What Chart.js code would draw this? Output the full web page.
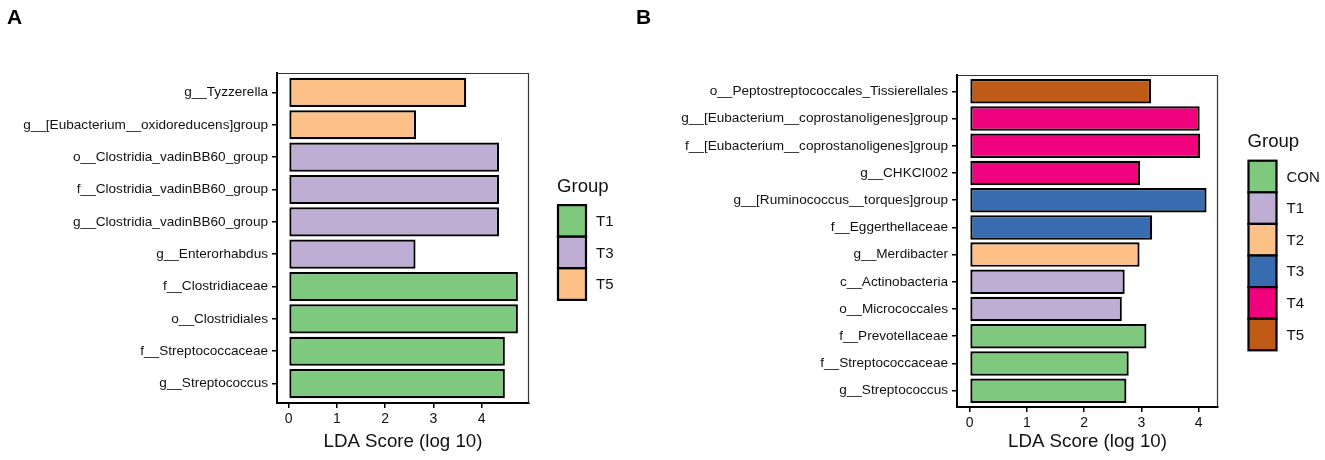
<!DOCTYPE html>
<html>
<head>
<meta charset="utf-8">
<script src="https://cdn.jsdelivr.net/npm/chart.js@4"></script>
<style>
  html, body { margin: 0; padding: 0; background: #fff; }
  body { width: 1325px; height: 460px; position: relative; overflow: hidden; }
  .panel { position: absolute; top: 0; height: 460px; }
  #wrapA { left: 0; width: 640px; }
  #wrapB { left: 620px; width: 705px; }
</style>
</head>
<body>
<div class="panel" id="wrapA"><canvas id="chartA"></canvas></div>
<div class="panel" id="wrapB"><canvas id="chartB"></canvas></div>
<script>
// --- panel A ---
const labelsA = [
  'g__Tyzzerella',
  'g__[Eubacterium__oxidoreducens]group',
  'o__Clostridia_vadinBB60_group',
  'f__Clostridia_vadinBB60_group',
  'g__Clostridia_vadinBB60_group',
  'g__Enterorhabdus',
  'f__Clostridiaceae',
  'o__Clostridiales',
  'f__Streptococcaceae',
  'g__Streptococcus'
];
const scoresA = [3.68, 2.64, 4.36, 4.36, 4.36, 2.63, 4.75, 4.75, 4.48, 4.48];
const groupsA = ['T5', 'T5', 'T3', 'T3', 'T3', 'T3', 'T1', 'T1', 'T1', 'T1'];
const legendA = ['T1', 'T3', 'T5'];
const coloursA = ['#7FC97F', '#BEAED4', '#FDC086'];

// --- panel B ---
const labelsB = [
  'o__Peptostreptococcales_Tissierellales',
  'g__[Eubacterium__coprostanoligenes]group',
  'f__[Eubacterium__coprostanoligenes]group',
  'g__CHKCI002',
  'g__[Ruminococcus__torques]group',
  'f__Eggerthellaceae',
  'g__Merdibacter',
  'c__Actinobacteria',
  'o__Micrococcales',
  'f__Prevotellaceae',
  'f__Streptococcaceae',
  'g__Streptococcus'
];
const scoresB = [3.17, 4.02, 4.03, 2.98, 4.14, 3.19, 2.97, 2.71, 2.66, 3.09, 2.78, 2.74];
const groupsB = ['T5', 'T4', 'T4', 'T4', 'T3', 'T3', 'T2', 'T1', 'T1', 'CON', 'CON', 'CON'];
const legendB = ['CON', 'T1', 'T2', 'T3', 'T4', 'T5'];
const coloursB = ['#7FC97F', '#BEAED4', '#FDC086', '#386CB0', '#F0027F', '#BF5B17'];

const xTicks = [0, 1, 2, 3, 4];

const FONT = '"Liberation Sans", Arial, Helvetica, sans-serif';
Chart.defaults.font.family = FONT;
Chart.defaults.color = '#111';

function ldaChart(id, cfg) {
  const H = 460;
  const n = cfg.labels.length;
  const colourOf = g => cfg.colours[cfg.legend.indexOf(g)];

  // frame top/right, legend, panel letter
  const decor = {
    id: 'decor',
    afterDraw(chart) {
      const { ctx, chartArea: a } = chart;
      ctx.save();
      ctx.strokeStyle = '#333';
      ctx.lineWidth = 1.2;
      ctx.beginPath();
      ctx.moveTo(a.left, a.top + 0.5);
      ctx.lineTo(a.right - 0.5, a.top + 0.5);
      ctx.lineTo(a.right - 0.5, a.bottom);
      ctx.stroke();

      const keyH = 31.6, keyW = 28;
      const kx = a.right + cfg.legendGap;
      const ky = (a.top + a.bottom) / 2 + 14.5 - cfg.legend.length * keyH / 2;
      ctx.fillStyle = '#111';
      ctx.textAlign = 'left';
      ctx.textBaseline = 'alphabetic';
      ctx.font = '18.6px ' + FONT;
      ctx.fillText('Group', kx, ky - 13.5);
      ctx.font = '15px ' + FONT;
      ctx.textBaseline = 'middle';
      cfg.legend.forEach((name, i) => {
        const y = ky + i * keyH;
        ctx.fillStyle = cfg.colours[i];
        ctx.fillRect(kx + 1, y, keyW, keyH);
        ctx.strokeStyle = '#000';
        ctx.lineWidth = 2.2;
        ctx.strokeRect(kx + 1, y, keyW, keyH);
        ctx.fillStyle = '#111';
        ctx.fillText(name, kx + keyW + 11, y + keyH / 2 + 1);
      });

      ctx.font = 'bold 21px ' + FONT;
      ctx.textBaseline = 'alphabetic';
      ctx.fillStyle = '#000';
      ctx.fillText(cfg.letter, cfg.letterX, 24);
      ctx.restore();
    }
  };

  return new Chart(document.getElementById(id), {
    type: 'bar',
    data: {
      datasets: [{
        data: cfg.scores.map((v, i) => ({ x: v, y: i })),
        backgroundColor: cfg.groups.map(colourOf),
        borderColor: '#000',
        borderWidth: 2.2,
        borderSkipped: false,
        categoryPercentage: 0.9,
        barPercentage: 1
      }]
    },
    options: {
      indexAxis: 'y',
      responsive: true,
      maintainAspectRatio: false,
      animation: false,
      layout: { padding: { top: cfg.area.top, right: cfg.width - cfg.area.right, left: 0, bottom: 0 } },
      plugins: { legend: { display: false }, tooltip: { enabled: false } },
      scales: {
        x: {
          type: 'linear',
          min: cfg.xMin,
          max: cfg.xMax,
          afterBuildTicks: s => { s.ticks = xTicks.map(v => ({ value: v })); },
          afterFit: s => { s.height = H - cfg.area.bottom; },
          grid: { drawOnChartArea: false, drawTicks: true, tickLength: 5, color: '#000', lineWidth: 1.5 },
          border: { display: true, color: '#000', width: 2 },
          ticks: { color: '#111', font: { size: 14 }, padding: 3 },
          title: { display: true, text: 'LDA Score (log 10)', color: '#111', font: { size: 18.7 }, padding: { top: 4, bottom: 7 } }
        },
        y: {
          type: 'linear',
          reverse: true,
          offset: false,
          min: -0.6,
          max: n - 0.4,
          afterBuildTicks: s => { s.ticks = cfg.labels.map((_, i) => ({ value: i })); },
          afterFit: s => { s.width = cfg.area.left; },
          grid: { offset: false, drawOnChartArea: false, drawTicks: true, tickLength: 5, color: '#000', lineWidth: 1.5 },
          border: { display: true, color: '#000', width: 2 },
          ticks: { color: '#111', font: { size: 13.6 }, padding: 4, autoSkip: false, callback: v => cfg.labels[v] }
        }
      }
    },
    plugins: [decor]
  });
}

ldaChart('chartA', {
  labels: labelsA, scores: scoresA, groups: groupsA, legend: legendA, colours: coloursA,
  xMin: -0.24, xMax: 4.98, width: 640,
  area: { left: 277, top: 73, right: 529, bottom: 403 },
  legendGap: 28, letter: 'A', letterX: 7
});

ldaChart('chartB', {
  labels: labelsB, scores: scoresB, groups: groupsB, legend: legendB, colours: coloursB,
  xMin: -0.22, xMax: 4.34, width: 705,
  area: { left: 337, top: 75, right: 598, bottom: 407 },
  legendGap: 29.5, letter: 'B', letterX: 16
});
</script>
</body>
</html>
